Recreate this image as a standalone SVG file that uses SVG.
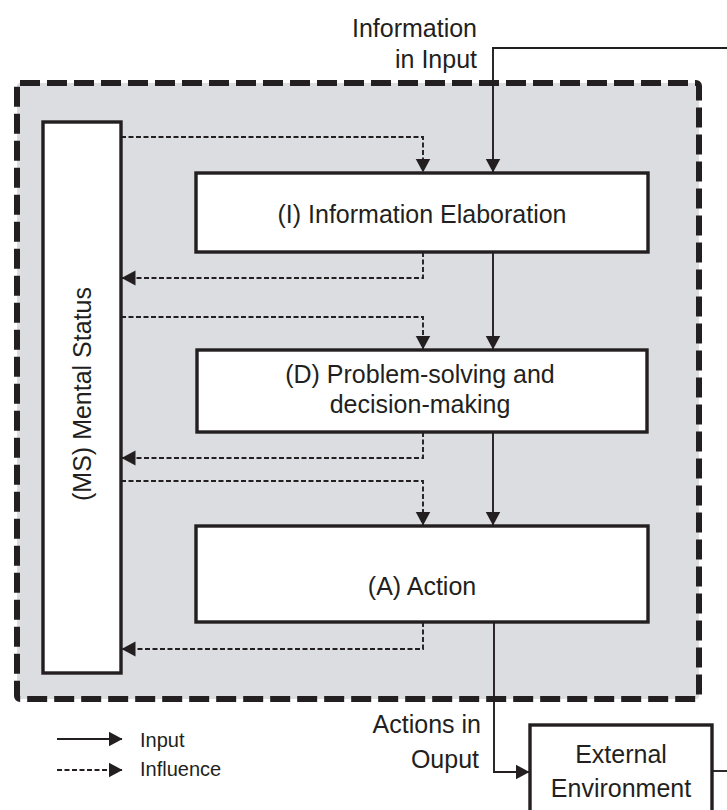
<svg xmlns="http://www.w3.org/2000/svg" width="727" height="810" viewBox="0 0 727 810">
<defs>
<style>
.box{fill:#fff;stroke:#231f20;stroke-width:3.4}
.lbl{font-family:"Liberation Sans",Arial,sans-serif;font-size:25px;fill:#231f20}
.leg{font-family:"Liberation Sans",Arial,sans-serif;font-size:20px;fill:#231f20}
.sol{fill:none;stroke:#231f20;stroke-width:1.9}
.dsh{fill:none;stroke:#231f20;stroke-width:1.9;stroke-dasharray:5 2.5}
</style>
<marker id="ah" markerUnits="userSpaceOnUse" markerWidth="14" markerHeight="16" viewBox="0 0 14 16" refX="13.5" refY="8" orient="auto">
<path d="M0,0.5 L14,8 L0,15.5 Z" fill="#231f20"/>
</marker>
</defs>
<rect width="727" height="810" fill="#fff"/>
<g id="container">
<rect x="17" y="83" width="682" height="616" rx="3" fill="#dcdde0" stroke="#231f20" stroke-width="6" stroke-dasharray="20 7"/>
</g>
<g id="connectors">
<path class="dsh" d="M121,137 H423 V172" marker-end="url(#ah)"/>
<path class="dsh" d="M423,252 V278 H122" marker-end="url(#ah)"/>
<path class="dsh" d="M121,317 H423 V349" marker-end="url(#ah)"/>
<path class="dsh" d="M423,432 V458 H122" marker-end="url(#ah)"/>
<path class="dsh" d="M121,481 H423 V525" marker-end="url(#ah)"/>
<path class="dsh" d="M423,622 V649 H122" marker-end="url(#ah)"/>
<path class="sol" d="M727,48 H493 V172" marker-end="url(#ah)"/>
<path class="sol" d="M493,252 V349" marker-end="url(#ah)"/>
<path class="sol" d="M493,432 V525" marker-end="url(#ah)"/>
<path class="sol" d="M494,622 V772 H529" marker-end="url(#ah)"/>
<path class="sol" d="M712,771 H727"/>
</g>
<g id="node-ms">
<rect class="box" x="43" y="122" width="78" height="551"/>
<text class="lbl" transform="translate(91,394) rotate(-90)" text-anchor="middle">(MS) Mental Status</text>
</g>
<g id="node-i">
<rect class="box" x="196" y="173" width="452" height="79"/>
<text class="lbl" x="422" y="223" text-anchor="middle">(I) Information Elaboration</text>
</g>
<g id="node-d">
<rect class="box" x="197" y="350" width="450" height="82"/>
<text class="lbl" x="420" y="383" text-anchor="middle">(D) Problem-solving and</text>
<text class="lbl" x="420" y="413" text-anchor="middle">decision-making</text>
</g>
<g id="node-a">
<rect class="box" x="196" y="526" width="452" height="96"/>
<text class="lbl" x="422" y="595" text-anchor="middle">(A) Action</text>
</g>
<g id="node-env">
<rect class="box" x="530" y="725" width="182" height="100"/>
<text class="lbl" x="621" y="763" text-anchor="middle">External</text>
<text class="lbl" x="621" y="797" text-anchor="middle">Environment</text>
</g>
<g id="labels">
<text class="lbl" x="477" y="37" text-anchor="end">Information</text>
<text class="lbl" x="477" y="68" text-anchor="end">in Input</text>
<text class="lbl" x="481" y="733" text-anchor="end">Actions in</text>
<text class="lbl" x="479" y="768" text-anchor="end">Ouput</text>
</g>
<g id="legend">
<path class="sol" d="M57,739 H122" marker-end="url(#ah)"/>
<text class="leg" x="140" y="747">Input</text>
<path class="dsh" d="M57,770 H122" marker-end="url(#ah)"/>
<text class="leg" x="140" y="776">Influence</text>
</g>
</svg>
